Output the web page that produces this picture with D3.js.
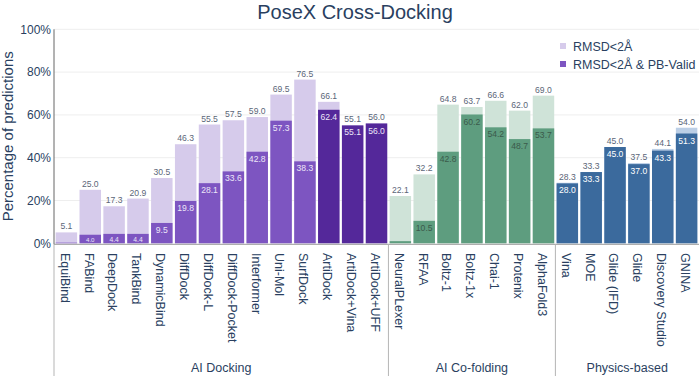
<!DOCTYPE html>
<html>
<head>
<meta charset="utf-8">
<script src="https://cdn.jsdelivr.net/npm/d3@7"></script>
<style>
  body { margin: 0; background: #fff; }
  svg { display: block; font-family: "Liberation Sans", Arial, sans-serif; }
</style>
</head>
<body>
<script>
const width = 700;
const height = 376;

// methods, grouped as in the figure
const groups = ['AI Docking', 'AI Co-folding', 'Physics-based'];
const methods = [
    'EquiBind', 'FABind', 'DeepDock', 'TankBind', 'DynamicBind', 'DiffDock', 'DiffDock-L',
    'DiffDock-Pocket', 'Interformer', 'Uni-Mol', 'SurfDock', 'ArtiDock', 'ArtiDock+Vina', 'ArtiDock+UFF',
    'NeuralPLexer', 'RFAA', 'Boltz-1', 'Boltz-1x', 'Chai-1', 'Protenix', 'AlphaFold3',
    'Vina', 'MOE', 'Glide (IFD)', 'Glide', 'Discovery Studio', 'GNINA'
];
const methodGroup = [
    0, 0, 0, 0, 0, 0, 0, 0, 0, 0, 0, 0, 0, 0,
    1, 1, 1, 1, 1, 1, 1,
    2, 2, 2, 2, 2, 2
];
// RMSD<2Å (%)
const rmsd = [
    5.1, 25.0, 17.3, 20.9, 30.5, 46.3, 55.5, 57.5, 59.0, 69.5, 76.5, 66.1, 55.1, 56.0,
    22.1, 32.2, 64.8, 63.7, 66.6, 62.0, 69.0,
    28.3, 33.3, 45.0, 37.5, 44.1, 54.0
];
// RMSD<2Å & PB-Valid (%)
const pbValid = [
    0.3, 4.0, 4.4, 4.4, 9.5, 19.8, 28.1, 33.6, 42.8, 57.3, 38.3, 62.4, 55.1, 56.0,
    1.0, 10.5, 42.8, 60.2, 54.2, 48.7, 53.7,
    28.0, 33.3, 45.0, 37.0, 43.3, 51.3
];
const yTicks = [0, 20, 40, 60, 80, 100];

const rows = methods.map((name, i) => ({
    name, group: methodGroup[i], total: rmsd[i], valid: pbValid[i]
}));

// colours
const lightColor = ['#d6cbeb', '#cfe3d8', '#bccfe6'];
const darkColor = ['#7d55c1', '#5e9d7f', '#3b6a9d'];
const deepPurple = '#54289a';
const innerText = ['#ece6f8', '#3b5a4b', '#ffffff'];
const textColor = '#2a3f5f';
const labelColor = '#5b6678';

const plotLeft = 54, plotRight = 699, plotTop = 29.3, plotBottom = 243.3;

const svg = d3.select('body').append('svg')
    .attr('width', width)
    .attr('height', height);

const x = d3.scaleBand()
    .domain(methods)
    .range([plotLeft, plotRight])
    .paddingInner(0.1)
    .paddingOuter(0.07);

const y = d3.scaleLinear()
    .domain([0, 100])
    .range([plotBottom, plotTop]);

const darkFill = d => (d.name.startsWith('ArtiDock') ? deepPurple : darkColor[d.group]);

// grid
svg.append('g')
    .selectAll('line')
    .data(yTicks.filter(t => t > 0))
    .enter().append('line')
    .attr('x1', plotLeft).attr('x2', plotRight)
    .attr('y1', d => y(d)).attr('y2', d => y(d))
    .attr('stroke', '#eeeeee')
    .attr('stroke-width', 1);

// y tick labels
svg.append('g')
    .selectAll('text')
    .data(yTicks)
    .enter().append('text')
    .attr('x', plotLeft - 3)
    .attr('y', d => y(d))
    .attr('dy', '0.36em')
    .attr('text-anchor', 'end')
    .attr('font-size', 12)
    .attr('fill', textColor)
    .text(d => d + '%');

// y axis title
svg.append('text')
    .attr('transform', `translate(13,${(plotTop + plotBottom) / 2}) rotate(-90)`)
    .attr('text-anchor', 'middle')
    .attr('font-size', 15)
    .attr('fill', textColor)
    .text('Percentage of predictions');

// title
svg.append('text')
    .attr('x', 355)
    .attr('y', 19)
    .attr('text-anchor', 'middle')
    .attr('font-size', 20)
    .attr('fill', textColor)
    .text('PoseX Cross-Docking');

// light bars (RMSD<2Å)
const bars = svg.append('g');
bars.selectAll('rect.total')
    .data(rows)
    .enter().append('rect')
    .attr('class', 'total')
    .attr('x', d => x(d.name))
    .attr('width', x.bandwidth())
    .attr('y', d => y(d.total))
    .attr('height', d => y(0) - y(d.total))
    .attr('fill', d => lightColor[d.group]);

// dark bars (PB-valid), overlaid
bars.selectAll('rect.valid')
    .data(rows)
    .enter().append('rect')
    .attr('class', 'valid')
    .attr('x', d => x(d.name))
    .attr('width', x.bandwidth())
    .attr('y', d => y(d.valid))
    .attr('height', d => y(0) - y(d.valid))
    .attr('fill', darkFill);

// outside labels
svg.append('g')
    .selectAll('text')
    .data(rows)
    .enter().append('text')
    .attr('x', d => x(d.name) + x.bandwidth() / 2)
    .attr('y', d => y(d.total) - 3)
    .attr('text-anchor', 'middle')
    .attr('font-size', 8.6)
    .attr('fill', labelColor)
    .text(d => d.total.toFixed(1));

// inside labels, shrunk for short bars
const fitSize = d => Math.min(8.6, (y(0) - y(d.valid)) * 0.72);
svg.append('g')
    .selectAll('text')
    .data(rows.filter(d => fitSize(d) >= 5))
    .enter().append('text')
    .attr('x', d => x(d.name) + x.bandwidth() / 2)
    .attr('y', d => y(d.valid) + fitSize(d) + 1.5)
    .attr('text-anchor', 'middle')
    .attr('font-size', fitSize)
    .attr('fill', d => innerText[d.group])
    .text(d => d.valid.toFixed(1));

// x axis line
svg.append('line')
    .attr('x1', plotLeft).attr('x2', plotRight)
    .attr('y1', plotBottom + 1).attr('y2', plotBottom + 1)
    .attr('stroke', '#9a9a9a')
    .attr('stroke-width', 1);

// y axis line
svg.append('line')
    .attr('x1', plotLeft).attr('x2', plotLeft)
    .attr('y1', plotTop).attr('y2', plotBottom + 1)
    .attr('stroke', '#666')
    .attr('stroke-width', 1);

// x tick labels (rotated)
svg.append('g')
    .selectAll('text')
    .data(rows)
    .enter().append('text')
    .attr('transform', d => `translate(${x(d.name) + x.bandwidth() / 2},253) rotate(90)`)
    .attr('dy', '0.45em')
    .attr('text-anchor', 'start')
    .attr('font-size', 12.5)
    .attr('fill', textColor)
    .text(d => d.name);

// group dividers and labels
const step = x.step();
const bounds = groups.map((g, gi) => {
    const names = rows.filter(d => d.group === gi).map(d => d.name);
    const x0 = gi === 0 ? plotLeft : x(names[0]) - step * x.paddingInner() / 2;
    const last = names[names.length - 1];
    const x1 = gi === groups.length - 1 ? plotRight : x(last) + x.bandwidth() + step * x.paddingInner() / 2;
    return { name: g, x0, x1 };
});

svg.append('g')
    .selectAll('line')
    .data(bounds)
    .enter().append('line')
    .attr('x1', d => d.x0).attr('x2', d => d.x0)
    .attr('y1', plotBottom + 1).attr('y2', height)
    .attr('stroke', '#b5b5b5')
    .attr('stroke-width', 1);

svg.append('g')
    .selectAll('text')
    .data(bounds)
    .enter().append('text')
    .attr('x', d => (d.x0 + d.x1) / 2)
    .attr('y', 372)
    .attr('text-anchor', 'middle')
    .attr('font-size', 12.5)
    .attr('fill', textColor)
    .text(d => d.name);

// legend
const legendItems = [
    { label: 'RMSD<2Å', color: lightColor[0] },
    { label: 'RMSD<2Å & PB-Valid', color: darkColor[0] }
];
const legend = svg.append('g')
    .selectAll('g')
    .data(legendItems)
    .enter().append('g')
    .attr('transform', (d, i) => `translate(560,${46 + i * 18})`);

legend.append('rect')
    .attr('x', 0).attr('y', -3)
    .attr('width', 6).attr('height', 6)
    .attr('fill', d => d.color);

legend.append('text')
    .attr('x', 13)
    .attr('dy', '0.36em')
    .attr('font-size', 12.5)
    .attr('fill', textColor)
    .text(d => d.label);
</script>
</body>
</html>
